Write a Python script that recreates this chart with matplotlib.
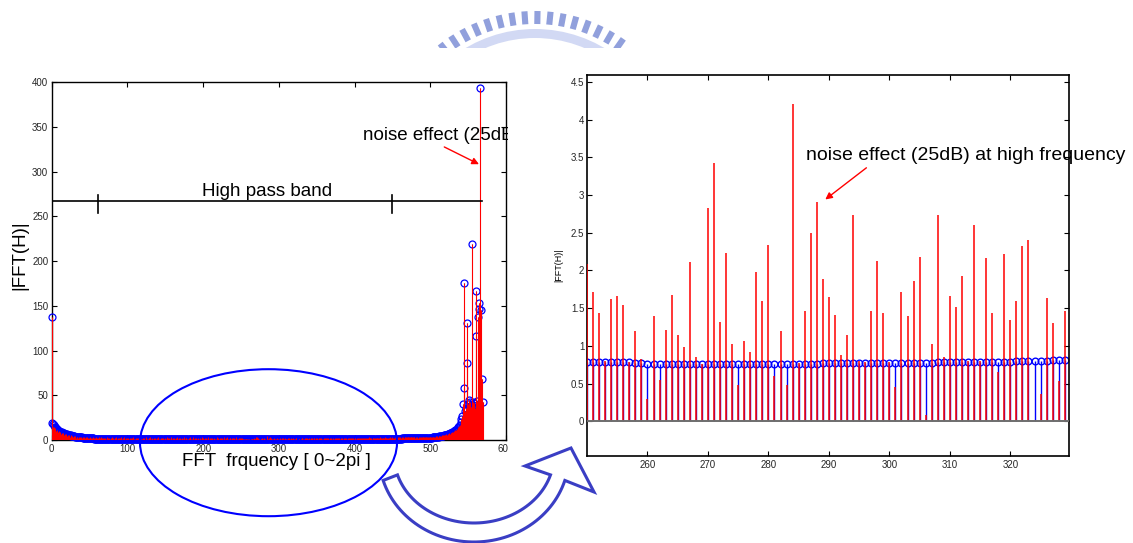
import numpy as np
import matplotlib
matplotlib.use("Agg")
import matplotlib.pyplot as plt
from matplotlib.patches import Ellipse, Polygon, Rectangle, Wedge
from matplotlib.ticker import FormatStrFormatter

plt.rcParams['font.family'] = ['Liberation Sans', 'DejaVu Sans']

# |FFT(H)| of the filter (blue circles), one value per bin 0..569
h_filter = [
    138, 19, 18, 16.5, 15, 14, 13, 12, 11.3, 10.6,
    10, 9.5, 9, 8.6, 8.2, 7.8, 7.5, 7.2, 6.9, 6.6,
    6.3, 6.0, 5.8, 5.5, 5.3, 5.1, 4.9, 4.7, 4.5, 4.3,
    4.1, 3.9, 3.8, 3.6, 3.5, 3.3, 3.2, 3.1, 3.0, 2.9,
    2.8, 2.7, 2.6, 2.5, 2.4, 2.3, 2.2, 2.2, 2.1, 2.0,
    2.0, 1.9, 1.8, 1.8, 1.7, 1.7, 1.6, 1.6, 1.5, 1.5,
    1.5, 1.4, 1.4, 1.4, 1.3, 1.3, 1.3, 1.2, 1.2, 1.2,
    1.2, 1.1, 1.1, 1.1, 1.1, 1.1, 1.0, 1.0, 1.0, 1.0,
    1.0, 1.0, .98, .97, .96, .95, .94, .93, .93, .92,
    .91, .91, .90, .90, .89, .89, .88, .88, .87, .87,
    .87, .86, .86, .86, .85, .85, .85, .84, .84, .84,
    .84, .83, .83, .83, .83, .82, .82, .82, .82, .82,
    .81, .81, .81, .81, .81, .81, .80, .80, .80, .80,
    .80, .80, .80, .80, .79, .79, .79, .79, .79, .79,
    .79, .79, .79, .79, .79, .78, .78, .78, .78, .78,
    .78, .78, .78, .78, .78, .78, .78, .78, .78, .78,
    .78, .78, .78, .78, .78, .78, .78, .78, .78, .78,
    .78, .78, .78, .78, .78, .78, .78, .78, .78, .78,
    .78, .78, .78, .78, .78, .78, .78, .78, .78, .78,
    .78, .78, .78, .78, .78, .78, .78, .78, .78, .78,
    .78, .78, .78, .78, .78, .78, .78, .78, .78, .78,
    .78, .78, .78, .78, .78, .78, .78, .78, .78, .78,
    .78, .78, .78, .78, .78, .78, .78, .78, .78, .78,
    .78, .78, .78, .78, .78, .78, .78, .78, .78, .78,
    .78, .78, .78, .78, .78, .78, .78, .78, .78, .78,
    .78, .78, .78, .78, .78, .78, .78, .78, .77, .77,
    .76, .76, .76, .76, .76, .76, .76, .76, .76, .76,
    .76, .76, .76, .76, .76, .76, .76, .76, .76, .76,
    .76, .76, .76, .76, .76, .76, .76, .76, .76, .77,
    .77, .77, .77, .77, .77, .77, .77, .77, .77, .77,
    .77, .77, .77, .77, .77, .77, .77, .77, .78, .78,
    .78, .78, .78, .78, .78, .78, .78, .78, .79, .79,
    .79, .80, .80, .80, .80, .80, .80, .81, .81, .81,
    .81, .81, .82, .82, .82, .82, .83, .83, .83, .84,
    .84, .84, .85, .85, .85, .86, .86, .86, .87, .87,
    .87, .88, .88, .88, .89, .89, .89, .90, .90, .91,
    .91, .91, .92, .92, .93, .93, .94, .94, .95, .95,
    .96, .96, .97, .97, .98, .98, .99, .99, 1.0, 1.0,
    1.01, 1.01, 1.02, 1.03, 1.03, 1.04, 1.04, 1.05, 1.06, 1.06,
    1.07, 1.08, 1.08, 1.09, 1.10, 1.10, 1.11, 1.12, 1.13, 1.13,
    1.14, 1.15, 1.15, 1.16, 1.17, 1.17, 1.18, 1.19, 1.19, 1.20,
    1.21, 1.21, 1.22, 1.23, 1.23, 1.24, 1.25, 1.26, 1.26, 1.27,
    1.28, 1.29, 1.30, 1.30, 1.31, 1.32, 1.33, 1.34, 1.35, 1.36,
    1.37, 1.38, 1.39, 1.39, 1.40, 1.41, 1.42, 1.43, 1.43, 1.44,
    1.44, 1.45, 1.45, 1.46, 1.46, 1.47, 1.47, 1.48, 1.48, 1.49,
    1.50, 1.51, 1.53, 1.54, 1.55, 1.57, 1.58, 1.59, 1.61, 1.62,
    1.64, 1.65, 1.67, 1.68, 1.70, 1.71, 1.73, 1.75, 1.76, 1.78,
    1.80, 1.82, 1.83, 1.85, 1.86, 1.88, 1.90, 1.92, 1.95, 1.98,
    2.00, 2.02, 2.04, 2.06, 2.08, 2.10, 2.13, 2.16, 2.19, 2.22,
    2.25, 2.28, 2.31, 2.34, 2.37, 2.40, 2.43, 2.46, 2.50, 2.55,
    2.60, 2.65, 2.70, 2.80, 2.90, 3.00, 3.10, 3.20, 3.30, 3.45,
    3.60, 3.80, 4.00, 4.20, 4.40, 4.60, 4.80, 5.00, 5.20, 5.30,
    5.50, 5.80, 6.10, 6.40, 6.70, 7.00, 7.40, 7.80, 8.20, 8.60,
    9.10, 9.60, 10.2, 10.8, 11.5, 12.3, 13.2, 14.2, 15.4, 17.0,
    20, 24, 27, 40, 58, 176, 32, 36, 86, 131,
    40, 45, 38, 42, 37, 219, 43, 39, 41, 36,
    167, 116, 44, 138, 146, 153, 394, 145, 68, 42,
]

# |FFT| with 25dB noise added (red stems), same bins
h_noisy = [
    138, 17, 15, 14.5, 12, 13, 10.5, 11, 9, 9.8,
    8.2, 8.9, 7.1, 8.0, 6.5, 7.4, 5.9, 6.8, 5.2, 6.3,
    4.9, 5.8, 4.4, 5.6, 3.9, 5.2, 4.1, 4.6, 3.2, 4.8,
    3.0, 4.2, 2.7, 3.9, 3.3, 2.4, 3.8, 2.9, 2.2, 3.5,
    2.6, 3.1, 1.9, 3.4, 2.3, 2.8, 1.6, 3.2, 2.0, 2.7,
    1.5, 2.9, 2.2, 1.8, 3.1, 1.4, 2.5, 2.0, 3.3, 1.2,
    2.4, 1.7, 2.8, 1.3, 2.1, 3.0, 1.1, 2.6, 1.9, 2.2,
    0.9, 2.7, 1.6, 3.2, 1.2, 2.0, 2.5, 0.8, 1.8, 2.9,
    1.4, 2.3, 1.0, 2.6, 1.7, 3.4, 1.2, 2.1, 0.7, 2.4,
    1.9, 1.3, 2.8, 1.0, 2.2, 1.6, 3.0, 0.9, 1.8, 2.5,
    1.1, 2.0, 1.5, 2.7, 0.6, 1.9, 2.3, 1.2, 3.1, 1.4,
    0.8, 2.2, 1.7, 1.0, 2.6, 1.3, 1.9, 3.5, 0.9, 1.6,
    2.4, 1.1, 2.0, 0.5, 1.8, 2.9, 1.3, 1.0, 2.2, 1.7,
    3.0, 0.8, 1.5, 2.3, 1.2, 2.7, 0.6, 1.9, 1.4, 2.1,
    1.0, 3.3, 1.6, 0.9, 2.4, 1.3, 1.8, 2.6, 0.7, 1.5,
    2.0, 1.2, 2.8, 0.9, 1.7, 2.2, 1.1, 3.6, 1.4, 0.8,
    1.9, 2.5, 1.0, 1.6, 2.3, 0.6, 2.9, 1.3, 1.8, 1.1,
    2.1, 0.9, 2.7, 1.5, 1.2, 3.2, 0.7, 1.9, 2.4, 1.0,
    1.6, 2.2, 0.8, 2.8, 1.4, 1.1, 2.0, 3.8, 0.9, 1.7,
    2.5, 1.2, 1.0, 2.3, 1.6, 0.5, 2.1, 1.4, 2.9, 1.1,
    1.8, 0.9, 2.6, 1.3, 2.0, 1.0, 3.1, 1.5, 0.7, 2.2,
    1.2, 1.9, 2.7, 0.8, 1.6, 2.4, 1.1, 1.4, 3.4, 0.9,
    2.0, 1.3, 1.7, 2.5, 0.6, 1.9, 1.2, 2.8, 1.0, 1.5,
    2.2, 0.8, 3.0, 1.4, 1.1, 2.3, 1.7, 0.9, 2.6, 1.3,
    1.8, 2.1, 0.7, 1.5, 2.9, 1.0, 1.6, 2.4, 1.2, 1.9,
    2.09, 1.72, 1.43, 0.80, 1.62, 1.66, 1.54, 0.79, 1.20, 0.83,
    0.30, 1.39, 0.55, 1.21, 1.67, 1.15, 0.99, 2.11, 0.85, 0.76,
    2.83, 3.43, 1.31, 2.23, 1.03, 0.48, 1.07, 0.92, 1.98, 1.59,
    2.34, 0.60, 1.20, 0.48, 4.21, 0.77, 1.46, 2.50, 2.91, 1.88,
    1.65, 1.41, 0.88, 1.15, 2.74, 0.80, 0.78, 1.46, 2.13, 1.44,
    0.78, 0.45, 1.72, 1.39, 1.86, 2.18, 0.08, 1.02, 2.73, 0.85,
    1.66, 1.52, 1.92, 0.80, 2.60, 0.80, 2.16, 1.44, 0.65, 2.22,
    1.34, 1.60, 2.33, 2.40, 0.00, 0.36, 1.63, 1.30, 0.53, 1.46,
    1.7, 2.1, 0.9, 1.5, 2.4, 1.2, 1.8, 2.0, 1.1, 1.6,
    2.6, 1.3, 1.9, 1.0, 2.2, 1.4, 1.7, 2.5, 1.2, 1.8,
    2.0, 1.1, 1.5, 2.3, 1.3, 1.9, 2.7, 1.0, 1.6, 2.1,
    1.4, 1.8, 2.4, 1.2, 1.7, 2.0, 1.1, 2.2, 1.5, 1.9,
    1.3, 2.5, 1.6, 1.2, 2.1, 1.8, 1.4, 2.3, 1.7, 1.1,
    2.0, 1.5, 2.6, 1.3, 1.9, 1.6, 2.2, 1.2, 1.8, 2.4,
    1.4, 2.0, 1.7, 1.3, 2.3, 1.9, 1.5, 2.1, 2.7, 1.4,
    1.8, 2.2, 1.6, 2.0, 1.3, 2.5, 1.7, 1.9, 2.3, 1.5,
    2.1, 1.8, 2.6, 1.6, 2.0, 2.4, 1.5, 2.2, 1.9, 2.8,
    1.7, 2.1, 2.4, 1.6, 2.3, 2.0, 2.7, 1.8, 2.2, 2.5,
    1.9, 2.4, 2.1, 2.9, 1.8, 2.3, 2.6, 2.0, 2.5, 2.2,
    3.0, 2.1, 2.4, 2.7, 2.0, 2.6, 2.3, 2.9, 2.2, 2.5,
    2.8, 2.3, 2.6, 3.1, 2.4, 2.7, 2.5, 3.0, 2.6, 2.8,
    3.2, 2.5, 2.9, 2.7, 3.1, 2.6, 3.0, 2.8, 3.3, 2.9,
    3.1, 2.8, 3.4, 3.0, 3.2, 3.5, 2.9, 3.3, 3.1, 3.6,
    2.3, 2.8, 2.5, 3.0, 2.6, 3.1, 2.7, 3.2, 2.9, 3.3,
    2.8, 3.4, 3.0, 3.5, 3.1, 3.6, 3.2, 3.7, 3.3, 3.8,
    2.9, 3.4, 3.1, 3.6, 3.3, 3.8, 3.5, 4.0, 3.7, 4.2,
    3.9, 4.5, 4.2, 4.8, 4.5, 5.1, 4.9, 5.5, 5.3, 5.9,
    5.7, 6.3, 6.1, 6.8, 6.6, 7.3, 7.2, 8.0, 7.9, 8.7,
    8.8, 9.7, 9.9, 10.9, 11.3, 12.4, 13.0, 14.3, 15.2, 16.8,
    20, 24, 27, 40, 58, 176, 32, 36, 86, 131,
    40, 45, 38, 42, 37, 219, 43, 39, 41, 36,
    167, 116, 44, 138, 146, 153, 394, 145, 68, 42,
]

left_xticks = [0, 100, 200, 300, 400, 500, 600]
left_yticks = [0, 50, 100, 150, 200, 250, 300, 350, 400]
zoom_xticks = [260, 270, 280, 290, 300, 310, 320]
zoom_yticks = [0, 0.5, 1, 1.5, 2, 2.5, 3, 3.5, 4, 4.5]
zoom_lo, zoom_hi = 250, 330      # bins shown in the right panel
band_lo, band_hi = 61.5, 450     # "High pass band" bar ticks

assert len(h_filter) == len(h_noisy) == 570

W, H = 1133, 543


def px_box(x0, y0, x1, y1):
    # pixel box (origin top-left) -> figure fraction rect
    return [x0 / W, 1 - y1 / H, (x1 - x0) / W, (y1 - y0) / H]


def matlab_style(ax, lw=1.0):
    ax.tick_params(direction='in', top=True, right=True, length=3.5,
                   width=0.8, labelsize=7, pad=3, labelcolor='#262626')
    for s in ax.spines.values():
        s.set_linewidth(lw)


fig = plt.figure(figsize=(W / 100, H / 100), dpi=100)
bins = np.arange(len(h_filter))
h_filter = np.array(h_filter)
h_noisy = np.array(h_noisy)

# ---- left: whole spectrum
ax = fig.add_axes(px_box(51.7, 82.3, 506, 440))
mk, sl, bl = ax.stem(bins, h_filter, linefmt='b-', markerfmt='bo')
mk.set_markerfacecolor('none')
mk.set_markersize(5)
mk.set_markeredgewidth(0.9)
mk.set_zorder(3)
mk.set_clip_on(False)
sl.set_linewidth(0.7)
sl.set_zorder(2)
bl.set_visible(False)

rm, rl, rb = ax.stem(bins, h_noisy, linefmt='r-', markerfmt='ro')
rm.set_visible(False)
rb.set_visible(False)
rl.set_linewidth(0.8)
rl.set_zorder(4)

ax.set_xlim(0, 600)
ax.set_ylim(0, 400)
ax.set_xticks(left_xticks)
ax.set_yticks(left_yticks)
matlab_style(ax)
ax.tick_params(axis='y', pad=2.5)

ax.set_ylabel('|FFT(H)|', fontsize=13.5)
ax.yaxis.set_label_coords(-0.07, 0.517)
ax.yaxis.label.set_va('center')
ax.set_xlabel('FFT  frquency [ 0~2pi ]', fontsize=13.5)
ax.xaxis.set_label_coords(0.494, -0.061)
ax.xaxis.label.set_va('center')

ax.plot([2, 568], [267.4, 267.4], color='k', lw=1.2, zorder=5)
for bx in (band_lo, band_hi):
    ax.plot([bx, bx], [254, 274], color='k', lw=1.2, zorder=5)
ax.text(285, 272.6, 'High pass band', fontsize=13.5, ha='center', va='baseline')
ax.text(410.5, 336, 'noise effect (25dB', fontsize=13.5, ha='left', va='baseline')
ax.annotate('', xy=(564.3, 308.4), xytext=(518.5, 327.7),
            arrowprops=dict(arrowstyle='-|>', color='red', lw=1.0,
                            mutation_scale=10, shrinkA=0, shrinkB=0))

# ---- right: zoom on the middle bins
ax2 = fig.add_axes(px_box(587, 75, 1069, 456))
zb = bins[zoom_lo:zoom_hi]
mk2, sl2, bl2 = ax2.stem(zb, h_filter[zoom_lo:zoom_hi], linefmt='b-', markerfmt='bo')
mk2.set_markerfacecolor('none')
mk2.set_markersize(4.8)
mk2.set_markeredgewidth(1.0)
sl2.set_linewidth(1.0)
bl2.set_visible(False)

rm2, rl2, rb2 = ax2.stem(zb, h_noisy[zoom_lo:zoom_hi], linefmt='r-', markerfmt='ro')
rm2.set_visible(False)
rb2.set_visible(False)
rl2.set_linewidth(1.3)
rl2.set_alpha(0.85)
rl2.set_zorder(3)
ax2.axhline(0, color='#6e6e6e', lw=1.4, zorder=4)

ax2.set_xlim(250, 329.7)
ax2.set_ylim(-0.46, 4.59)
ax2.set_xticks(zoom_xticks)
ax2.set_yticks(zoom_yticks)
ax2.yaxis.set_major_formatter(FormatStrFormatter('%g'))
matlab_style(ax2, lw=1.2)
ax2.tick_params(axis='y', pad=2)

ax2.set_ylabel('|FFT(H)|', fontsize=6.5)
ax2.yaxis.set_label_coords(-0.058, 0.5)
ax2.yaxis.label.set_va('center')

ax2.text(286.2, 3.46, 'noise effect (25dB) at high frequency', fontsize=14,
         ha='left', va='baseline', clip_on=False)
ax2.annotate('', xy=(289.4, 2.94), xytext=(296.2, 3.36),
             arrowprops=dict(arrowstyle='-|>', color='red', lw=1.0,
                             mutation_scale=10, shrinkA=0, shrinkB=0))

# ---- overlay drawn in pixel coords: crop mask, ellipse, curved arrow
ov = fig.add_axes([0, 0, 1, 1], zorder=10)
ov.set_xlim(0, W)
ov.set_ylim(H, 0)
ov.set_facecolor('none')
ov.set_axis_off()

# the left panel was cropped just right of its frame
ov.add_patch(Rectangle((508, 60), 45, 398, facecolor='white', edgecolor='none'))

ov.add_patch(Ellipse((268.5, 442.7), 257, 147, fill=False, edgecolor='#0000ff', lw=1.5))

cx, cy = 474, 455
t_out = np.radians(np.linspace(163, 17, 60))
t_in = np.radians(np.linspace(17, 163, 60))
outer = np.column_stack([cx + 95 * np.cos(t_out), cy + 87 * np.sin(t_out)])
inner = np.column_stack([cx + 80 * np.cos(t_in), cy + 68 * np.sin(t_in)])
head = np.array([[594, 492], [571, 448], [525, 466]])
arrow_pts = np.vstack([outer, head, inner])
ov.add_patch(Polygon(arrow_pts, closed=True, facecolor='white',
                     edgecolor='#3a3ec4', lw=2.2, joinstyle='miter'))

# ---- watermark logo at the top (cut off at y=48)
lg = fig.add_axes(px_box(0, 0, W, 48), zorder=1)
lg.set_xlim(0, W)
lg.set_ylim(48, 0)
lg.set_axis_off()
lg.add_patch(Wedge((535, 165), 136, 232, 308, width=9, facecolor='#d2d9f4',
                   edgecolor='none', transform=lg.transData))
for a in np.radians(np.linspace(128, 55, 16)):
    lg.plot([535 + 141 * np.cos(a), 535 + 154 * np.cos(a)],
            [165 - 141 * np.sin(a), 165 - 154 * np.sin(a)],
            color='#91a0dc', lw=4.4, solid_capstyle='butt')

fig.savefig('out.png', dpi=100)
